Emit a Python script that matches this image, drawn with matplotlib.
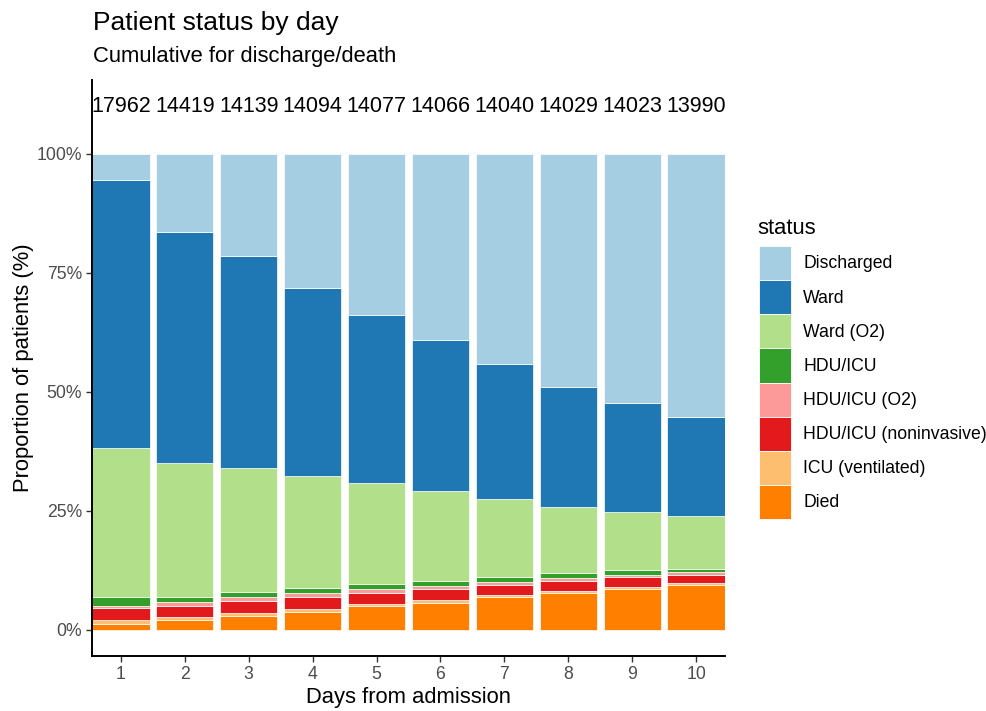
import matplotlib
matplotlib.use("Agg")
import matplotlib.pyplot as plt
from matplotlib.patches import Patch
import numpy as np

plt.rcParams['font.family'] = ['Liberation Sans', 'DejaVu Sans']

days = [1, 2, 3, 4, 5, 6, 7, 8, 9, 10]
counts = [17962, 14419, 14139, 14094, 14077, 14066, 14040, 14029, 14023, 13990]

# status shares (%) per day, bottom to top of stack
died = [1.2, 2.1, 3.0, 3.8, 5.0, 5.7, 6.9, 7.7, 8.55, 9.5]
icu_vent = [0.8, 0.57, 0.5, 0.5, 0.5, 0.5, 0.5, 0.5, 0.45, 0.4]
hdu_noninv = [2.6, 2.23, 2.5, 2.6, 2.2, 2.35, 2.0, 2.0, 2.1, 1.7]
hdu_o2 = [0.5, 0.85, 0.9, 0.8, 0.8, 0.75, 0.75, 0.6, 0.45, 0.5]
hdu_icu = [1.7, 1.05, 1.1, 1.1, 1.2, 0.9, 0.95, 1.1, 0.95, 0.65]
ward_o2 = [31.4, 28.3, 26.0, 23.5, 21.2, 19.0, 16.4, 13.9, 12.2, 11.15]
ward = [56.3, 48.5, 44.6, 39.5, 35.3, 31.7, 28.4, 25.3, 23.05, 20.8]
discharged = [5.5, 16.4, 21.4, 28.2, 33.8, 39.1, 44.1, 48.9, 52.25, 55.3]

statuses = ["Died", "ICU (ventilated)", "HDU/ICU (noninvasive)", "HDU/ICU (O2)",
            "HDU/ICU", "Ward (O2)", "Ward", "Discharged"]
series = [died, icu_vent, hdu_noninv, hdu_o2, hdu_icu, ward_o2, ward, discharged]
colors = ["#FF7F00", "#FDBF6F", "#E31A1C", "#FB9A99",
          "#33A02C", "#B2DF8A", "#1F78B4", "#A6CEE3"]

W, H = 987, 711
fig = plt.figure(figsize=(W / 100, H / 100), dpi=100)
ax = fig.add_axes([92 / W, (H - 656) / H, 633 / W, 576 / H])

vals = np.array(series, dtype=float)
totals = vals.sum(axis=0)
pct = vals / totals * 100
bottom = np.zeros(len(days))
for name, v, c in zip(statuses, pct, colors):
    ax.bar(days, v, bottom=bottom, width=0.9, color=c, edgecolor="white",
           linewidth=0.5, label=name)
    bottom += v

for d, n in zip(days, counts):
    ax.text(d, 110, str(n), ha="center", va="center", fontsize=15.5, color="black")

ax.set_xlim(0.55, 10.45)
ax.set_ylim(-5.5, 115.5)
ax.set_xticks(days)
ax.set_xticklabels([str(d) for d in days])
ax.set_yticks([0, 25, 50, 75, 100])
ax.set_yticklabels(["0%", "25%", "50%", "75%", "100%"])
for s in ["top", "right"]:
    ax.spines[s].set_visible(False)
for s in ["left", "bottom"]:
    ax.spines[s].set_linewidth(1.4)
    ax.spines[s].set_color("black")
ax.tick_params(axis="both", length=4, width=1, color="#333333",
               labelsize=12.7, labelcolor="#4D4D4D", pad=3)
ax.set_xlabel("Days from admission", fontsize=15.8, labelpad=3)
ax.set_ylabel("Proportion of patients (%)", fontsize=15.8, labelpad=2)

fig.text(93 / W, 1 - 30 / H, "Patient status by day", fontsize=19, ha="left", va="baseline")
fig.text(93 / W, 1 - 62 / H, "Cumulative for discharge/death", fontsize=15.8, ha="left", va="baseline")

# legend
fig.text(757 / W, 1 - 234 / H, "status", fontsize=15.8, ha="left", va="baseline")
handles = [Patch(facecolor=c, edgecolor="white", linewidth=0.6) for c in colors][::-1]
labels = statuses[::-1]
leg = fig.legend(handles, labels, loc="upper left", bbox_to_anchor=(759 / W, 1 - 246 / H),
                 frameon=False, fontsize=12.7,
                 handlelength=1.82, handleheight=2.6, labelspacing=0.0,
                 handletextpad=0.68, borderpad=0, borderaxespad=0)

fig.savefig("out.png", dpi=100)
